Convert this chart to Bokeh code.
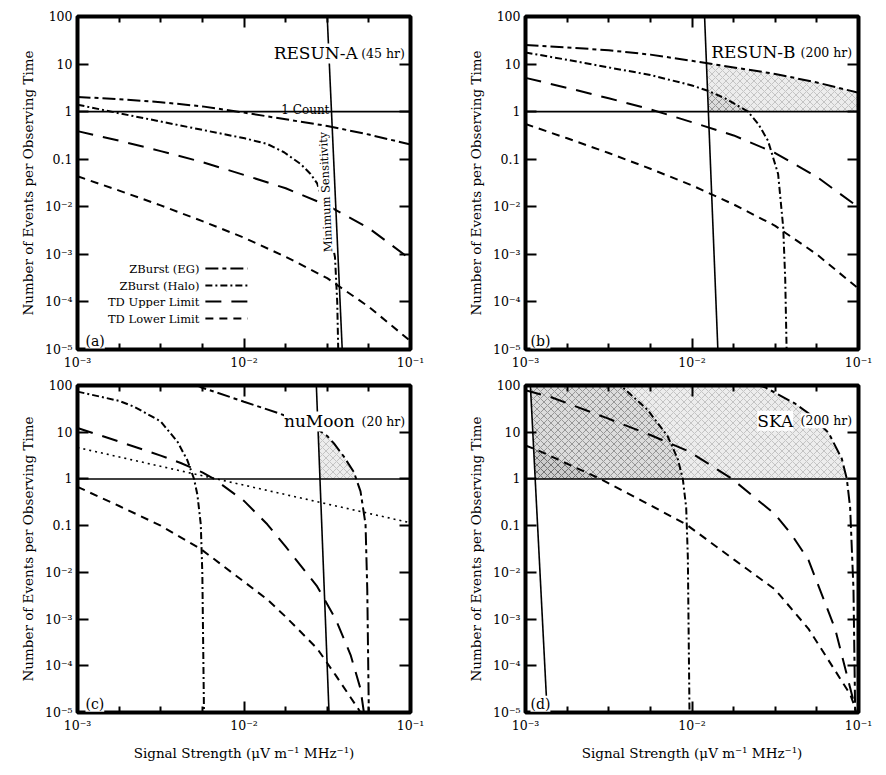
import numpy as np
from bokeh.plotting import figure
from bokeh.models import FixedTicker, LogAxis, Label, Range1d, Span
from bokeh.layouts import column, row
from bokeh.embed import file_html
from bokeh.resources import INLINE

FONT = "DejaVu Serif"

# ---------------- axes ----------------
X_MAJOR = [1e-3, 1e-2, 1e-1]
X_LABELS = ["10⁻³", "10⁻²", "10⁻¹"]
X_MINOR = [10 ** (-3 + k / 4) for k in range(1, 8) if k != 4]
Y_MAJOR = [1e-5, 1e-4, 1e-3, 1e-2, 0.1, 1, 10, 100]
Y_LABELS = ["10⁻⁵", "10⁻⁴", "10⁻³", "10⁻²", "0.1", "1", "10", "100"]
ONE_COUNT = 1.0
SENS_Y = [100, 1e-5]

# ---------------- panel (a) RESUN-A ----------------
a_grid_x = [0.001, 0.00178, 0.00316, 0.00562, 0.01, 0.0178, 0.0316, 0.0562, 0.1]
a_eg_y = [2.04, 1.82, 1.58, 1.29, 0.955, 0.69, 0.50, 0.33, 0.204]
a_halo_x = [0.001, 0.00182, 0.00316, 0.0055, 0.0101, 0.0138, 0.0174, 0.0219, 0.0251,
            0.0275, 0.0309, 0.0331, 0.0352, 0.0363, 0.0368]
a_halo_y = [1.40, 0.91, 0.62, 0.42, 0.275, 0.209, 0.14, 0.079, 0.049,
            0.031, 0.0083, 0.0027, 0.00087, 0.0001, 0.00001]
a_tdu_y = [0.389, 0.245, 0.148, 0.087, 0.0468, 0.0245, 0.0107, 0.00355, 0.00079]
a_tdl_y = [0.0437, 0.0219, 0.0107, 0.0050, 0.00224, 0.00089, 0.000316, 7.9e-5, 1.5e-5]
a_sens_x = [0.0316, 0.0389]

# ---------------- panel (b) RESUN-B ----------------
b_grid_x = [0.001, 0.00178, 0.00316, 0.00562, 0.01, 0.0178, 0.0316, 0.0562, 0.1]
b_eg_y = [25.1, 22.4, 19.5, 15.8, 11.7, 8.5, 6.2, 4.1, 2.5]
b_halo_x = [0.001, 0.00178, 0.00316, 0.00562, 0.01, 0.01245, 0.0158, 0.0217, 0.0251,
            0.0286, 0.0329, 0.0353, 0.0363, 0.037]
b_halo_y = [17.5, 12.3, 8.5, 5.9, 3.55, 2.75, 1.9, 1.0, 0.54,
            0.245, 0.049, 0.0037, 0.0003, 0.00001]
b_tdu_y = [5.13, 3.16, 1.91, 1.12, 0.60, 0.316, 0.135, 0.0427, 0.00977]
b_tdl_y = [0.55, 0.275, 0.135, 0.063, 0.0282, 0.0112, 0.00398, 0.001, 0.00019]
b_sens_x = [0.0119, 0.0143]

# ---------------- panel (c) nuMoon ----------------
c_eg_x = [0.00501, 0.0055, 0.01, 0.0162, 0.0224, 0.0269, 0.0316, 0.0347, 0.0398,
          0.0457, 0.0501, 0.0537, 0.055, 0.0562]
c_eg_y = [107, 92, 45, 25.4, 16.6, 12.3, 8.3, 5.75, 3.0, 1.4, 0.54, 0.107, 0.0043, 1e-5]
c_halo_x = [0.001, 0.00178, 0.00219, 0.00316, 0.00398, 0.00457, 0.00501, 0.00525,
            0.0055, 0.00562, 0.00575]
c_halo_y = [74, 46.8, 35.1, 17.0, 6.3, 2.5, 1.0, 0.457, 0.107, 0.0095, 1e-5]
c_tdu_x = [0.001, 0.00178, 0.00316, 0.00417, 0.00562, 0.0066, 0.01, 0.0138, 0.0178,
           0.0275, 0.0355, 0.0437, 0.0501, 0.0525]
c_tdu_y = [12.3, 6.3, 3.16, 2.19, 1.38, 1.0, 0.339, 0.107, 0.0355,
           0.0050, 0.001, 0.00017, 3.2e-5, 1e-5]
c_tdl_x = [0.001, 0.00178, 0.00316, 0.0055, 0.01, 0.0138, 0.0178, 0.0275, 0.0355,
           0.0479, 0.0501]
c_tdl_y = [0.676, 0.263, 0.1, 0.0316, 0.0063, 0.00263, 0.00112, 0.000234, 6.3e-5,
           1.29e-5, 1e-5]
c_dot_x = [0.001, 0.1]
c_dot_y = [4.7, 0.115]
c_sens_x = [0.0272, 0.0324]

# ---------------- panel (d) SKA ----------------
d_eg_x = [0.024, 0.0274, 0.0415, 0.0501, 0.0661, 0.0794, 0.0851, 0.0891, 0.0933, 0.0955]
d_eg_y = [107, 92, 41.2, 25.4, 9.7, 2.7, 1.0, 0.24, 0.0043, 1e-5]
d_halo_x = [0.00347, 0.00383, 0.00542, 0.00714, 0.00822, 0.00881, 0.00923, 0.00944, 0.00966]
d_halo_y = [120, 92, 29.9, 8.2, 2.66, 1.0, 0.24, 0.0214, 1e-5]
d_tdu_x = [0.001, 0.00141, 0.00309, 0.00562, 0.00944, 0.0126, 0.0174, 0.0316, 0.0398,
           0.0501, 0.0631, 0.0724, 0.0933, 0.0966]
d_tdu_y = [79, 56.9, 20, 8.7, 3.98, 2.09, 1.0, 0.174, 0.063, 0.0182, 0.00219, 0.000617,
           1.78e-5, 1e-5]
d_tdl_x = [0.001, 0.00117, 0.00282, 0.00501, 0.00923, 0.0178, 0.0316, 0.0501, 0.0631,
           0.0891, 0.0955]
d_tdl_y = [5.2, 4.2, 1.0, 0.34, 0.106, 0.019, 0.00427, 0.000617, 0.00017, 2.45e-5, 1.26e-5]
d_sens_x = [0.00107, 0.00135]

LEGEND_NAMES = ["ZBurst (EG)", "ZBurst (Halo)", "TD Upper Limit", "TD Lower Limit"]

# ---------------- styles ----------------
DASH = {"eg": "13 4 4 4", "halo": "7 3 2 3", "tdu": "16 10", "tdl": "8 6", "dot": "2 4"}
LW = 2.0


def frac_x(f):
    return 10 ** (-3 + 2 * f)


def frac_y(f):
    return 10 ** (-5 + 7 * f)


def make_fig(w, h, bl, br, bt, bb, xlabel):
    p = figure(width=w, height=h, x_axis_type="log", y_axis_type="log",
               x_range=Range1d(1e-3, 1e-1), y_range=Range1d(1e-5, 100),
               output_backend="svg", toolbar_location=None,
               min_border_left=bl, min_border_right=br,
               min_border_top=bt, min_border_bottom=bb,
               background_fill_color="white", border_fill_color="white")
    p.xgrid.visible = False
    p.ygrid.visible = False
    p.outline_line_color = "black"
    p.outline_line_width = 4
    p.outline_line_alpha = 1.0
    xt = FixedTicker(ticks=X_MAJOR, minor_ticks=X_MINOR)
    yt = FixedTicker(ticks=Y_MAJOR, minor_ticks=[])
    xa = p.xaxis[0]
    xa.ticker = xt
    xa.major_label_overrides = dict(zip(X_MAJOR, X_LABELS))
    ya = p.yaxis[0]
    ya.ticker = yt
    ya.major_label_overrides = dict(zip(Y_MAJOR, Y_LABELS))
    for ax in (xa, ya):
        ax.axis_line_color = None
        ax.major_tick_in = 11
        ax.major_tick_out = 0
        ax.minor_tick_in = 6
        ax.minor_tick_out = 0
        ax.major_tick_line_width = 2
        ax.minor_tick_line_width = 2
        ax.major_label_text_font = FONT
        ax.major_label_text_font_size = "12.5px"
        ax.major_label_text_color = "black"
        ax.major_label_standoff = 5
        ax.axis_label_text_font = FONT
        ax.axis_label_text_font_size = "13.5px"
        ax.axis_label_text_font_style = "normal"
        ax.axis_label_text_color = "black"
    ya.axis_label = "Number of Events per Observing Time"
    ya.axis_label_standoff = 6
    if xlabel:
        xa.axis_label = "Signal Strength (μV m⁻¹ MHz⁻¹)"
        xa.axis_label_standoff = 9
    for loc, tk in (("above", xt), ("right", yt)):
        m = LogAxis(ticker=tk, axis_line_color=None, major_tick_in=11, major_tick_out=0,
                    minor_tick_in=6, minor_tick_out=0, major_tick_line_width=2,
                    minor_tick_line_width=2, major_label_text_font_size="1px",
                    major_label_text_alpha=0.0, major_label_standoff=0)
        p.add_layout(m, loc)
    return p


def region(p, xs, ys, sens_x):
    lx = np.log10(xs)
    ly = np.log10(ys)
    slx = np.log10(sens_x)
    sly = np.log10(SENS_Y)
    g = np.linspace(-3, -1, 2400)
    up = np.interp(g, lx, ly, left=2.0, right=-9.0)
    up = np.minimum(up, np.log10(Y_MAJOR[-1]))
    line_y = sly[0] + (g - slx[0]) * (sly[1] - sly[0]) / (slx[1] - slx[0])
    low = np.maximum(np.log10(ONE_COUNT), line_y)
    m = up > low
    idx = np.where(m)[0]
    if len(idx) == 0:
        return
    i0, i1 = max(idx[0] - 1, 0), min(idx[-1] + 1, len(g) - 1)
    gg = g[i0:i1 + 1]
    lo = low[i0:i1 + 1]
    hi = np.maximum(up[i0:i1 + 1], lo)
    p.varea(x=10 ** gg, y1=10 ** lo, y2=10 ** hi, fill_color="black", fill_alpha=0.07,
            hatch_pattern="diagonal_cross", hatch_color="black", hatch_alpha=0.22,
            hatch_scale=7, hatch_weight=0.8)


def curves(p, eg, halo, tdu, tdl, sens_x):
    p.add_layout(Span(location=ONE_COUNT, dimension="width", line_color="black", line_width=1.6))
    p.line(sens_x, SENS_Y, line_color="black", line_width=1.6)
    for key, (x, y) in (("eg", eg), ("halo", halo), ("tdu", tdu), ("tdl", tdl)):
        p.line(x, y, line_color="black", line_width=LW, line_dash=DASH[key])


def lab(p, text, fx, fy, size, align="left", baseline="alphabetic", angle=0.0, bg=None):
    kw = {}
    if bg is not None:
        kw["background_fill_color"] = bg
    p.add_layout(Label(x=frac_x(fx), y=frac_y(fy), text=text, text_font=FONT,
                       text_font_size=f"{size}px", text_align=align,
                       text_baseline=baseline, angle=angle, text_color="black", **kw))


def title(p, big, small, fx_big, fx_small, fy):
    lab(p, big, fx_big, fy, 17, bg="white")
    lab(p, small, fx_small, fy, 12.5, bg="white")


# ---------------- build panels ----------------
pa = make_fig(456, 377, 77, 46, 16, 28, False)
pb = make_fig(418, 377, 69, 16, 16, 28, False)
pc = make_fig(456, 386, 77, 46, 8, 45, True)
pd = make_fig(418, 386, 69, 16, 8, 45, True)

# (a)
curves(pa, (a_grid_x, a_eg_y), (a_halo_x, a_halo_y), (a_grid_x, a_tdu_y), (a_grid_x, a_tdl_y), a_sens_x)
title(pa, "RESUN-A", "(45 hr)", 0.589, 0.852, 0.889)
lab(pa, "1 Count", 0.612, 0.719, 12)
lab(pa, "Minimum Sensitivity", 0.766, 0.474, 11.5, align="center", baseline="bottom",
    angle=1.616, bg="white")
for i, name in enumerate(LEGEND_NAMES):
    fy = [0.243, 0.192, 0.144, 0.093][i]
    lab(pa, name, 0.366, fy, 11.5, align="right", baseline="middle")
    key = ["eg", "halo", "tdu", "tdl"][i]
    pa.line([frac_x(0.384), frac_x(0.511)], [frac_y(fy), frac_y(fy)], line_color="black",
            line_width=LW, line_dash=DASH[key])
lab(pa, "(a)", 0.024, 0.027, 14, bg="white")

# (b)
region(pb, b_grid_x, b_eg_y, b_sens_x)
region(pb, b_halo_x, b_halo_y, b_sens_x)
curves(pb, (b_grid_x, b_eg_y), (b_halo_x, b_halo_y), (b_grid_x, b_tdu_y), (b_grid_x, b_tdl_y), b_sens_x)
title(pb, "RESUN-B", "(200 hr)", 0.558, 0.826, 0.893)
lab(pb, "(b)", 0.015, 0.027, 14, bg="white")

# (c)
region(pc, c_eg_x, c_eg_y, c_sens_x)
curves(pc, (c_eg_x, c_eg_y), (c_halo_x, c_halo_y), (c_tdu_x, c_tdu_y), (c_tdl_x, c_tdl_y), c_sens_x)
pc.line(c_dot_x, c_dot_y, line_color="black", line_width=1.6, line_dash=DASH["dot"])
title(pc, "nuMoon", "(20 hr)", 0.620, 0.853, 0.890)
lab(pc, "(c)", 0.024, 0.027, 14, bg="white")

# (d)
region(pd, d_eg_x, d_eg_y, d_sens_x)
region(pd, d_halo_x, d_halo_y, d_sens_x)
region(pd, d_tdl_x, d_tdl_y, d_sens_x)
curves(pd, (d_eg_x, d_eg_y), (d_halo_x, d_halo_y), (d_tdu_x, d_tdu_y), (d_tdl_x, d_tdl_y), d_sens_x)
title(pd, "SKA", "(200 hr)", 0.696, 0.826, 0.892)
lab(pd, "(d)", 0.015, 0.027, 14, bg="white")

layout = column(row(pa, pb), row(pc, pd))
open("out.html", "w").write(file_html(layout, INLINE, title="Event rates"))
